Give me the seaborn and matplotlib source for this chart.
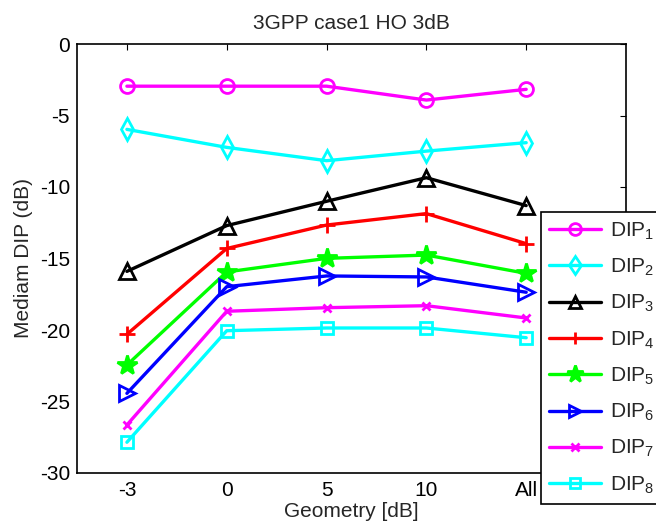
import matplotlib
matplotlib.use("Agg")
import matplotlib.pyplot as plt
import seaborn as sns
import pandas as pd

# Geometry categories on the x axis
geometry = ["-3", "0", "5", "10", "All"]

# Median DIP values (dB) per geometry
dip1 = [-2.95, -2.95, -2.95, -3.92, -3.17]
dip2 = [-5.97, -7.23, -8.16, -7.49, -6.90]
dip3 = [-15.9, -12.7, -11.0, -9.35, -11.3]
dip4 = [-20.3, -14.3, -12.66, -11.86, -13.96]
dip5 = [-22.45, -15.94, -14.99, -14.76, -16.04]
dip6 = [-24.43, -16.97, -16.22, -16.29, -17.36]
dip7 = [-26.64, -18.69, -18.44, -18.30, -19.16]
dip8 = [-27.85, -20.05, -19.86, -19.86, -20.54]

series = [dip1, dip2, dip3, dip4, dip5, dip6, dip7, dip8]
labels = [f"DIP$_{{{i}}}$" for i in range(1, 9)]
colors = ["#ff00ff", "#00ffff", "#000000", "#ff0000",
          "#00ff00", "#0000ff", "#ff00ff", "#00ffff"]
markers = ["o", "d", "^", "+", "*", ">", "x", "s"]
msizes = [10, 11, 11, 11, 15, 11, 6, 9]
filled = [False, False, False, True, True, False, True, False]

sns.set_style("white")
plt.rcParams["font.family"] = ["Liberation Sans", "DejaVu Sans"]
plt.rcParams["mathtext.fontset"] = "custom"
plt.rcParams["mathtext.rm"] = "Liberation Sans"
plt.rcParams["mathtext.it"] = "Liberation Sans"
plt.rcParams["mathtext.default"] = "regular"
plt.rcParams["axes.unicode_minus"] = False

fs = 15
fig = plt.figure(figsize=(6.56, 5.29), dpi=100)
# the axes box runs on under the legend, past the last category
ax = fig.add_axes([77 / 656, 56 / 529, 549 / 656, 429 / 529])

pos = list(range(len(geometry)))
for vals, lab, c, m, ms, f in zip(series, labels, colors, markers, msizes, filled):
    df = pd.DataFrame({"pos": pos, "val": vals})
    kw = dict(markerfacecolor=c) if f else dict(markerfacecolor="none")
    sns.lineplot(data=df, x="pos", y="val", ax=ax, color=c, marker=m,
                 markersize=ms, markeredgecolor=c, markeredgewidth=2,
                 linewidth=2.4, label=lab, **kw)

ax.set_xlim(-0.5, len(geometry))
ax.set_ylim(-30, 0)
ax.set_xticks(pos)
ax.set_xticklabels(geometry)
ax.set_yticks(range(-30, 1, 5))
ax.tick_params(direction="in", length=4, width=0.8, top=True, right=True,
               labelsize=fs, colors="black")
ax.tick_params(axis="x", pad=6)
ax.tick_params(axis="y", pad=5)
for s in ax.spines.values():
    s.set_visible(True)
    s.set_color("black")
    s.set_linewidth(1.2)

ax.set_title("3GPP case1 HO 3dB", fontsize=fs, pad=11)
ax.set_xlabel("Geometry [dB]", fontsize=fs, labelpad=1)
ax.set_ylabel("Mediam DIP (dB)", fontsize=fs, labelpad=5)

leg = ax.legend(loc="upper left", bbox_to_anchor=(541 / 656, 1 - 212 / 529),
                bbox_transform=fig.transFigure, borderaxespad=0,
                fontsize=fs, frameon=True, fancybox=False, framealpha=1,
                edgecolor="black", handlelength=2.5, handletextpad=0.4,
                labelspacing=0.72, borderpad=0.4, markerscale=0.85)
leg.get_frame().set_linewidth(1.2)

fig.savefig("out.png", dpi=100, facecolor="white")
